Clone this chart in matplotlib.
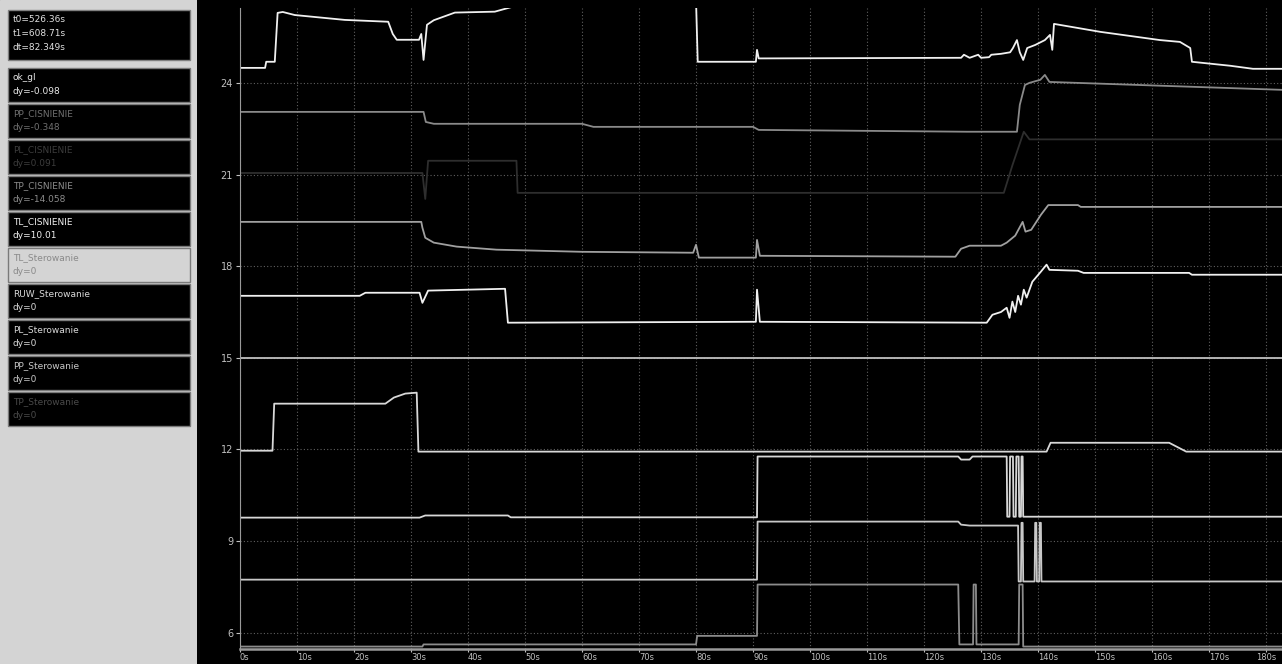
import matplotlib
matplotlib.use("Agg")
import matplotlib.pyplot as plt
from matplotlib.patches import Rectangle

# channel list on the left: (name, dy text, text colour)
channel_names = ["ok_gl", "PP_CISNIENIE", "PL_CISNIENIE", "TP_CISNIENIE", "TL_CISNIENIE",
                 "TL_Sterowanie", "RUW_Sterowanie", "PL_Sterowanie", "PP_Sterowanie", "TP_Sterowanie"]
channel_dy = ["dy=-0.098", "dy=-0.348", "dy=0.091", "dy=-14.058", "dy=10.01",
              "dy=0", "dy=0", "dy=0", "dy=0", "dy=0"]
cursor_text = ["t0=526.36s", "t1=608.71s", "dt=82.349s"]

# traces, time in s, value in plot units
ok_gl_t = [0, 4.4, 4.6, 6.1, 6.6, 7.5, 9.6, 18.4, 26.0, 26.8, 27.5, 31.4, 31.8, 32.2, 32.8, 34.0, 37.7, 44.7,
           48, 60, 80.0, 80.3, 90.5, 90.7, 91.0, 126.5, 127.0, 128.0, 129.5, 130.0, 131.4, 131.8, 133.5,
           135.1, 135.6, 136.3, 136.8, 137.4, 138.1, 139.5, 141.2, 142.1, 142.5, 142.8, 150.9, 161.4,
           164.9, 166.7, 167.0, 173.7, 177.7, 183]
ok_gl_v = [24.49, 24.49, 24.69, 24.69, 26.29, 26.32, 26.22, 26.06, 26.0, 25.6, 25.41, 25.41, 25.6, 24.75,
           25.9, 26.05, 26.3, 26.33, 26.5, 26.7, 26.7, 24.69, 24.69, 25.08, 24.8, 24.82, 24.92, 24.82,
           24.92, 24.82, 24.84, 24.92, 24.95, 25.0, 25.14, 25.4, 25.0, 24.75, 25.14, 25.24, 25.4, 25.57,
           25.08, 25.93, 25.67, 25.4, 25.34, 25.14, 24.69, 24.56, 24.46, 24.46]

pp_t = [0, 32.2, 32.6, 34, 60, 62, 90, 91, 127.5, 136.3, 136.8, 137.7, 138.5, 140.4, 141.2, 142.0, 183]
pp_v = [23.05, 23.05, 22.72, 22.66, 22.66, 22.56, 22.56, 22.46, 22.4, 22.4, 23.28, 23.93, 24.0, 24.1,
        24.26, 24.03, 23.77]

pl_t = [0, 32.0, 32.5, 33.0, 48.5, 48.7, 134.0, 135.5, 137.5, 138.5, 183]
pl_v = [21.05, 21.05, 20.2, 21.45, 21.45, 20.4, 20.4, 21.3, 22.4, 22.15, 22.15]

tp_t = [0, 31.8, 32.0, 32.5, 34, 38, 45, 60, 79.5, 80.0, 80.5, 90.5, 90.7, 91.2, 125.5, 126.5, 128,
        133.5, 134.5, 136.0, 137.3, 137.8, 138.8, 140.5, 141.8, 147.0, 147.5, 183]
tp_v = [19.45, 19.45, 19.26, 18.93, 18.77, 18.64, 18.54, 18.47, 18.44, 18.7, 18.28, 18.28, 18.86, 18.34,
        18.31, 18.57, 18.67, 18.67, 18.77, 19.0, 19.45, 19.13, 19.19, 19.68, 20.0, 20.0, 19.94, 19.94]

tl_t = [0, 21, 22, 31.5, 32, 33, 46.5, 47, 90.5, 90.7, 91.2, 131, 132, 133.5, 134.5, 135, 135.5, 136,
        136.5, 137, 137.5, 138, 139, 140.5, 141.5, 142, 147, 148, 166.5, 167, 183]
tl_v = [17.03, 17.03, 17.13, 17.13, 16.8, 17.2, 17.26, 16.15, 16.18, 17.23, 16.18, 16.15, 16.41, 16.5,
        16.64, 16.31, 16.84, 16.5, 17.03, 16.74, 17.23, 16.97, 17.49, 17.82, 18.05, 17.88, 17.85,
        17.78, 17.78, 17.72, 17.72]

tl_ster_t = [0, 183]
tl_ster_v = [15.0, 15.0]

ruw_t = [0, 5.7, 6.0, 25.5, 27, 29, 31, 31.3, 141.5, 142.2, 163, 166, 183]
ruw_v = [11.96, 11.96, 13.5, 13.5, 13.7, 13.83, 13.86, 11.93, 11.93, 12.22, 12.22, 11.93, 11.93]

pl_ster_t = [0, 31.5, 32.5, 47, 47.5, 90.7, 90.8, 126, 126.5, 128, 128.5, 134.5, 134.6, 135.0, 135.1,
             135.6, 135.7, 136.1, 136.2, 136.6, 136.7, 137.0, 137.1, 137.3, 137.4, 183]
pl_ster_v = [9.77, 9.77, 9.84, 9.84, 9.78, 9.78, 11.77, 11.77, 11.67, 11.67, 11.77, 11.77, 9.8, 9.8,
             11.77, 11.77, 9.8, 9.8, 11.77, 11.77, 9.8, 9.8, 11.77, 11.77, 9.8, 9.8]

pp_ster_t = [0, 90.7, 90.8, 126, 126.5, 128, 136.5, 136.6, 137.0, 137.1, 137.3, 137.4, 139.4, 139.5,
             139.7, 139.8, 140.2, 140.3, 140.5, 140.6, 183]
pp_ster_v = [7.74, 7.74, 9.64, 9.64, 9.54, 9.51, 9.51, 7.68, 7.68, 9.6, 9.6, 7.68, 7.68, 9.6, 9.6,
             7.68, 7.68, 9.6, 9.6, 7.68, 7.68]

tp_ster_t = [0, 32.0, 32.2, 80.0, 80.2, 90.7, 90.8, 126.0, 126.2, 128.6, 128.7, 129.1, 129.2, 136.6,
             136.7, 137.3, 137.4, 183]
tp_ster_v = [5.55, 5.55, 5.62, 5.62, 5.9, 5.9, 7.58, 7.58, 5.62, 5.62, 7.58, 7.58, 5.62, 5.62, 7.58,
             7.58, 5.55, 5.55]

x_ticks = list(range(0, 181, 10))
y_ticks = [6, 9, 12, 15, 18, 21, 24]

W, H = 1282, 664
fig = plt.figure(figsize=(W / 100, H / 100), dpi=100, facecolor="black")

# left channel panel, pixel coords
panel = fig.add_axes([0, 0, 197 / W, 1])
panel.set_xlim(0, 197)
panel.set_ylim(H, 0)
panel.axis("off")
panel.add_patch(Rectangle((0, 0), 197, H, color="#d4d4d4"))

panel.add_patch(Rectangle((8, 10), 182, 50, facecolor="black", edgecolor="#808080", lw=1))
for i, s in enumerate(cursor_text):
    panel.text(13, 19 + i * 14, s, color="#e0e0e0", fontsize=6.5, va="center")

text_cols = ["#e8e8e8", "#707070", "#3c3c3c", "#8c8c8c", "#f0f0f0",
             "#8a8a8a", "#d8d8d8", "#d8d8d8", "#c8c8c8", "#4a4a4a"]
for i, (nm, dy) in enumerate(zip(channel_names, channel_dy)):
    top = 68 + i * 36
    face = "#d4d4d4" if nm == "TL_Sterowanie" else "black"
    panel.add_patch(Rectangle((8, top), 182, 34, facecolor=face, edgecolor="#7a7a7a", lw=1))
    panel.text(13, top + 10, nm, color=text_cols[i], fontsize=6.5, va="center")
    panel.text(13, top + 24, dy, color=text_cols[i], fontsize=6.5, va="center")

# main scope area
ax = fig.add_axes([240 / W, 15 / H, 1042 / W, 641 / H], facecolor="black")
ax.set_xlim(0, 182.8)
ax.set_ylim(5.47, 26.45)

ax.grid(True, color="#606060", linestyle=(0, (1, 2)), lw=0.8)
ax.set_axisbelow(True)

ax.plot(pl_t, pl_v, color="#2e2e2e", lw=1.3)
ax.plot(pp_t, pp_v, color="#8a8a8a", lw=1.3)
ax.plot(tp_t, tp_v, color="#a0a0a0", lw=1.3)
ax.plot(tp_ster_t, tp_ster_v, color="#8c8c8c", lw=1.3)
ax.plot(pp_ster_t, pp_ster_v, color="#c8c8c8", lw=1.3)
ax.plot(pl_ster_t, pl_ster_v, color="#d8d8d8", lw=1.3)
ax.plot(ruw_t, ruw_v, color="#d8d8d8", lw=1.3)
ax.plot(tl_ster_t, tl_ster_v, color="#c0c0c0", lw=1.3)
ax.plot(tl_t, tl_v, color="#f0f0f0", lw=1.3)
ax.plot(ok_gl_t, ok_gl_v, color="#f0f0f0", lw=1.3)

for side in ["top", "right"]:
    ax.spines[side].set_visible(False)
ax.spines["left"].set_color("#9a9a9a")
ax.spines["bottom"].set_color("#9a9a9a")
ax.spines["bottom"].set_linewidth(1.8)

ax.set_xticks(x_ticks)
ax.set_xticklabels([f"{t}s" for t in x_ticks], ha="left")
ax.set_yticks(y_ticks)
ax.set_yticklabels([str(v) for v in y_ticks])
ax.tick_params(colors="#c0c0c0", labelsize=7, length=3, pad=2)
ax.tick_params(axis="x", labelsize=6, length=2, pad=1)
for lab in ax.get_xticklabels():
    if lab.get_text() == "180s":
        lab.set_horizontalalignment("center")

fig.savefig("out.png", dpi=100, facecolor=fig.get_facecolor())
